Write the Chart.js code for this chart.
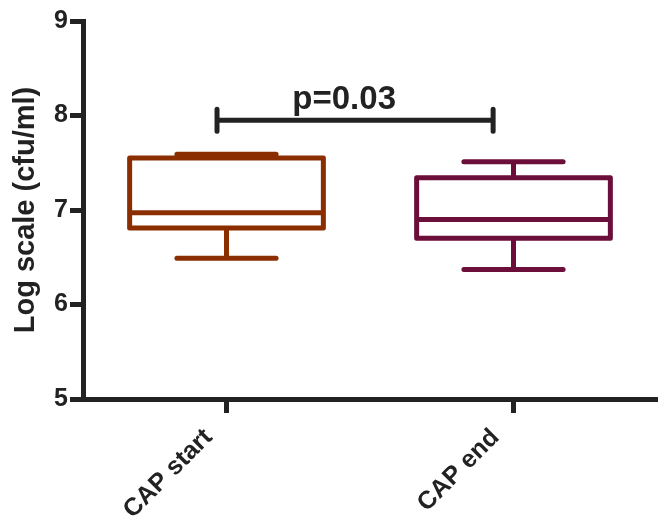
<!DOCTYPE html>
<html>
<head>
<meta charset="utf-8">
<script src="https://cdn.jsdelivr.net/npm/chart.js@4"></script>
<style>
  html, body { margin: 0; padding: 0; background: #fff; }
  #wrap { width: 663px; height: 531px; }
</style>
</head>
<body>
<div id="wrap"><canvas id="box"></canvas></div>
<script>
// data
const categories = ['CAP start', 'CAP end'];
const whiskerLow = [6.49, 6.37];
const q1 = [6.81, 6.70];
const medians = [6.97, 6.90];
const q3 = [7.55, 7.34];
const whiskerHigh = [7.59, 7.51];
const boxColors = ['#8a2e00', '#6b0f3a'];
const yTicks = [5, 6, 7, 8, 9];

// significance bracket
const pLabel = 'p=0.03';
const bracketValue = 7.95;
const bracketFrom = -0.033;
const bracketTo = 0.929;
const pLabelAt = 0.41;

const INK = '#222222';
const FONT = '"Liberation Sans", Arial, sans-serif';

// ─── box / whisker / bracket drawing ───
const boxPlot = {
  id: 'boxPlot',
  afterDatasetsDraw(chart) {
    const ctx = chart.ctx;
    const x = chart.scales.x, y = chart.scales.y;
    const meta = chart.getDatasetMeta(0);
    ctx.save();
    ctx.lineWidth = 5;
    meta.data.forEach((bar, i) => {
      const half = bar.width / 2;
      const cap = bar.width * 0.256;
      const cx = bar.x;
      ctx.strokeStyle = boxColors[i];
      ctx.lineCap = 'butt';
      ctx.lineJoin = 'round';
      // box
      ctx.strokeRect(cx - half, y.getPixelForValue(q3[i]), bar.width,
        y.getPixelForValue(q1[i]) - y.getPixelForValue(q3[i]));
      // median
      ctx.beginPath();
      ctx.moveTo(cx - half, y.getPixelForValue(medians[i]));
      ctx.lineTo(cx + half, y.getPixelForValue(medians[i]));
      ctx.stroke();
      // whiskers
      ctx.beginPath();
      ctx.moveTo(cx, y.getPixelForValue(q3[i]));
      ctx.lineTo(cx, y.getPixelForValue(whiskerHigh[i]));
      ctx.moveTo(cx, y.getPixelForValue(q1[i]));
      ctx.lineTo(cx, y.getPixelForValue(whiskerLow[i]));
      ctx.stroke();
      ctx.lineCap = 'round';
      ctx.beginPath();
      ctx.moveTo(cx - cap, y.getPixelForValue(whiskerHigh[i]));
      ctx.lineTo(cx + cap, y.getPixelForValue(whiskerHigh[i]));
      ctx.moveTo(cx - cap, y.getPixelForValue(whiskerLow[i]));
      ctx.lineTo(cx + cap, y.getPixelForValue(whiskerLow[i]));
      ctx.stroke();
    });

    // bracket
    const by = y.getPixelForValue(bracketValue);
    const x0 = x.getPixelForValue(bracketFrom);
    const x1 = x.getPixelForValue(bracketTo);
    ctx.strokeStyle = INK;
    ctx.lineCap = 'round';
    ctx.beginPath();
    ctx.moveTo(x0, by); ctx.lineTo(x1, by);
    ctx.moveTo(x0, by - 11); ctx.lineTo(x0, by + 11);
    ctx.moveTo(x1, by - 11); ctx.lineTo(x1, by + 11);
    ctx.stroke();
    ctx.fillStyle = INK;
    ctx.font = 'bold 33px ' + FONT;
    ctx.textAlign = 'center';
    ctx.textBaseline = 'alphabetic';
    ctx.fillText(pLabel, x.getPixelForValue(pLabelAt), by - 11);
    ctx.restore();
  }
};

new Chart(document.getElementById('box'), {
  type: 'bar',
  data: {
    labels: categories,
    datasets: [{
      data: categories.map((c, i) => [q1[i], q3[i]]),
      backgroundColor: 'rgba(0,0,0,0)',
      borderWidth: 0,
      barPercentage: 0.675,
      categoryPercentage: 1
    }]
  },
  options: {
    responsive: true,
    maintainAspectRatio: false,
    animation: false,
    layout: { padding: { top: 21, right: 6, left: 9, bottom: 0 } },
    plugins: { legend: { display: false }, tooltip: { enabled: false } },
    scales: {
      x: {
        offset: true,
        grid: { display: true, drawOnChartArea: false, offset: false, tickLength: 14, tickWidth: 5, tickColor: INK },
        border: { color: INK, width: 5 },
        ticks: {
          color: INK, maxRotation: 45, minRotation: 45, padding: 10, labelOffset: -18,
          font: { family: FONT, size: 25, weight: 'bold' }
        },
        afterFit: s => { s.height = 132; }
      },
      y: {
        min: 5, max: 9,
        afterBuildTicks: s => { s.ticks = yTicks.map(v => ({ value: v })); },
        grid: { display: true, drawOnChartArea: false, tickLength: 13, tickWidth: 5, tickColor: INK },
        border: { color: INK, width: 5 },
        ticks: {
          color: INK, padding: 2,
          font: { family: FONT, size: 25, weight: 'bold' }
        },
        title: {
          display: true, text: 'Log scale (cfu/ml)', color: INK, padding: 0,
          font: { family: FONT, size: 29, weight: 'bold' }
        },
        afterFit: s => { s.width = 74; }
      }
    }
  },
  plugins: [boxPlot]
});
</script>
</body>
</html>
